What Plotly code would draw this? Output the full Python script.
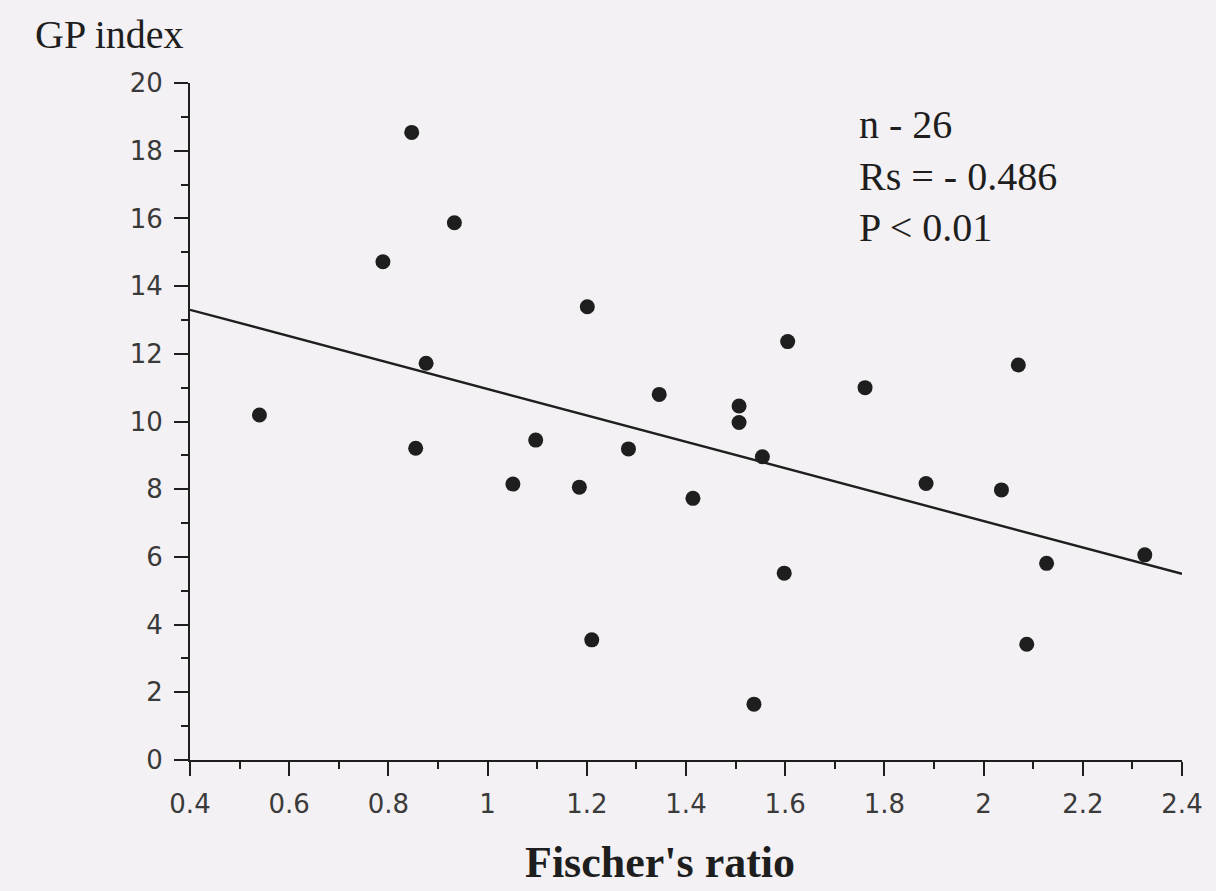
import plotly.graph_objects as go

# Data
fischer_ratio = [0.540, 0.789, 0.847, 0.933, 0.855, 0.876, 1.051, 1.097, 1.185,
                 1.201, 1.210, 1.284, 1.346, 1.414, 1.507, 1.507, 1.537, 1.554,
                 1.605, 1.598, 1.761, 1.884, 2.036, 2.070, 2.087, 2.127, 2.325]
gp_index = [10.19, 14.72, 18.54, 15.87, 9.21, 11.72, 8.15, 9.45, 8.06,
            13.39, 3.55, 9.19, 10.80, 7.73, 10.46, 9.97, 1.65, 8.96,
            12.36, 5.52, 11.00, 8.17, 7.98, 11.67, 3.42, 5.81, 6.06]

fit_x = [0.4, 2.4]
fit_y = [13.3, 5.5]

x_ticks = [0.4, 0.6, 0.8, 1.0, 1.2, 1.4, 1.6, 1.8, 2.0, 2.2, 2.4]
x_ticklabels = ["0.4", "0.6", "0.8", "1", "1.2", "1.4", "1.6", "1.8", "2", "2.2", "2.4"]
y_ticks = [0, 2, 4, 6, 8, 10, 12, 14, 16, 18, 20]
y_ticklabels = ["0", "2", "4", "6", "8", "10", "12", "14", "16", "18", "20"]

stats_lines = ["n - 26", "Rs = - 0.486", "P < 0.01"]

bg = "#f3f1f3"
ink = "#1e1e1e"

fig = go.Figure()
fig.add_trace(go.Scatter(x=fit_x, y=fit_y, mode="lines",
                         line=dict(color=ink, width=2.4), showlegend=False,
                         hoverinfo="skip"))
fig.add_trace(go.Scatter(x=fischer_ratio, y=gp_index, mode="markers",
                         marker=dict(color=ink, size=15, line=dict(width=0)),
                         showlegend=False))

fig.update_layout(
    width=1216, height=891,
    paper_bgcolor=bg, plot_bgcolor=bg,
    margin=dict(l=190, r=34, t=83, b=131),
    font=dict(family="DejaVu Sans", color="#333333"),
    xaxis=dict(
        range=[0.4, 2.4], tickvals=x_ticks, ticktext=x_ticklabels,
        showgrid=False, zeroline=False, showline=True, linecolor=ink, linewidth=2,
        ticks="outside", ticklen=14, tickwidth=2, tickcolor=ink,
        ticklabelstandoff=6, automargin=False,
        tickfont=dict(size=26, family="DejaVu Sans", color="#3a3a3a"),
        minor=dict(dtick=0.1, tick0=0.4, ticks="outside", ticklen=7, tickwidth=2,
                   tickcolor=ink, showgrid=False),
    ),
    yaxis=dict(
        range=[0, 20], tickvals=y_ticks, ticktext=y_ticklabels,
        showgrid=False, zeroline=False, showline=True, linecolor=ink, linewidth=2,
        ticks="outside", ticklen=14, tickwidth=2, tickcolor=ink,
        ticklabelstandoff=6, automargin=False,
        tickfont=dict(size=26, family="DejaVu Sans", color="#3a3a3a"),
        minor=dict(dtick=1, tick0=0, ticks="outside", ticklen=7, tickwidth=2,
                   tickcolor=ink, showgrid=False),
    ),
)

# x-axis title (placed slightly left of centre as in the original)
fig.add_annotation(text="<b>Fischer's ratio</b>", xref="paper", yref="paper",
                   x=0.474, y=-0.151, xanchor="center", yanchor="middle",
                   showarrow=False,
                   font=dict(size=44, family="Liberation Serif", color=ink))

fig.add_annotation(text="GP index", xref="paper", yref="paper",
                   x=-0.158, y=1.071, xanchor="left", yanchor="middle",
                   showarrow=False,
                   font=dict(size=40, family="Liberation Serif", color=ink))

for i, line in enumerate(stats_lines):
    fig.add_annotation(text=line, xref="paper", yref="paper",
                       x=0.672, y=0.938 - i * 0.076, xanchor="left", yanchor="middle",
                       showarrow=False,
                       font=dict(size=40, family="Liberation Serif", color=ink))

fig.write_html("out.html")
